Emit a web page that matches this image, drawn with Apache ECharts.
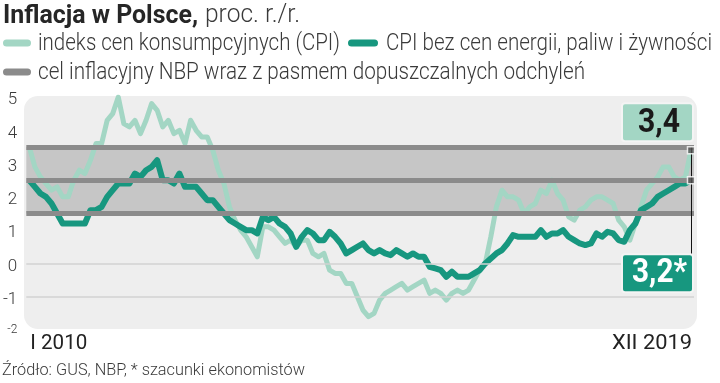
<!DOCTYPE html>
<html><head><meta charset="utf-8">
<script src="https://cdn.jsdelivr.net/npm/echarts@6/dist/echarts.min.js"></script>
<style>html,body{margin:0;padding:0;background:#fff}#c{width:720px;height:383px}</style>
</head><body><div id="c"></div>
<script>
// Monthly, I 2010 .. XII 2019
const xTickLabels = ['I 2010', 'XII 2019'];
const yMin = -2, yMax = 5;
const cpi = [
 3.5,2.9,2.6,2.4,2.2,2.3,2.0,2.0,2.5,2.8,2.7,3.1,
 3.6,3.6,4.3,4.5,5.0,4.2,4.1,4.3,3.9,4.3,4.8,4.6,
 4.1,4.3,3.9,4.0,3.6,4.3,4.0,3.8,3.8,3.4,2.8,2.4,
 1.7,1.3,1.0,0.8,0.5,0.2,1.1,1.1,1.0,0.8,0.6,0.7,
 0.5,0.7,0.7,0.3,0.2,0.3,-0.2,-0.3,-0.3,-0.6,-0.6,-1.0,
 -1.4,-1.6,-1.5,-1.1,-0.9,-0.8,-0.7,-0.6,-0.8,-0.7,-0.6,-0.5,
 -0.9,-0.8,-0.9,-1.1,-0.9,-0.8,-0.9,-0.8,-0.5,-0.2,0.0,0.8,
 1.7,2.2,2.0,2.0,1.9,1.5,1.7,1.8,2.2,2.1,2.5,2.1,
 1.9,1.4,1.3,1.6,1.7,1.9,2.0,2.0,1.9,1.8,1.3,1.1,
 0.7,1.2,1.7,2.2,2.4,2.6,2.9,2.9,2.6,2.5,2.6,3.4
];
const core = [
 2.5,2.3,2.1,2.0,1.8,1.5,1.2,1.2,1.2,1.2,1.2,1.6,
 1.6,1.7,2.0,2.2,2.4,2.4,2.4,2.7,2.6,2.8,2.9,3.1,
 2.5,2.5,2.4,2.7,2.3,2.3,2.3,2.1,1.9,1.9,1.7,1.5,
 1.3,1.2,1.1,1.0,1.0,0.9,1.4,1.3,1.4,1.2,1.1,0.9,
 0.5,0.8,1.0,0.9,0.7,0.7,0.95,0.8,0.6,0.3,0.4,0.5,
 0.6,0.4,0.3,0.4,0.3,0.25,0.4,0.3,0.2,0.3,0.2,0.2,
 -0.1,-0.15,-0.2,-0.4,-0.25,-0.4,-0.4,-0.4,-0.3,-0.2,0.0,0.15,
 0.3,0.4,0.6,0.85,0.8,0.8,0.8,0.8,1.0,0.8,0.9,0.9,
 1.0,0.8,0.7,0.6,0.55,0.6,0.9,0.8,0.95,0.9,0.7,0.65,
 1.0,1.2,1.6,1.7,1.8,2.0,2.1,2.2,2.3,2.4,2.4,2.5
];
const bandLow = 1.5, target = 2.5, bandHigh = 3.5;
const refLines = [0, -1];
const endLabels = ['3,4', '3,2*'];
const titleBold = 'Inflacja w Polsce,';
const titleLight = 'proc. r./r.';
const legendNames = ['indeks cen konsumpcyjnych (CPI)', 'CPI bez cen energii, paliw i żywności', 'cel inflacyjny NBP wraz z pasmem dopuszczalnych odchyleń'];
const sourceText = 'Źródło: GUS, NBP, * szacunki ekonomistów';

const C_CPI = '#a3d6c4', C_CORE = '#17977f', C_BAND = '#c6c6c6', C_BANDLINE = '#8b8b8b';
const FN = "Roboto, 'Liberation Sans', sans-serif";
const TXT = '#3a3a3a';

const mctx = document.createElement('canvas').getContext('2d');
function fitScale(text, font, w) { mctx.font = font; return w / mctx.measureText(text).width; }
function fitText(text, font, x, y, w, extra) {
  const s = fitScale(text, font, w);
  return Object.assign({type: 'text', x: x, y: y, scaleX: s, scaleY: 1,
    style: Object.assign({text: text, font: font, fill: TXT, textVerticalAlign: 'middle'}, extra || {})});
}

const chart = echarts.init(document.getElementById('c'), null, {renderer: 'canvas'});
const toPairs = arr => arr.map((v, i) => [i, v]);
const last = cpi.length - 1;

chart.setOption({
  animation: false,
  grid: {left: 24, right: 26, top: 97, bottom: 53},
  xAxis: {type: 'value', min: -0.54, max: last + 0.54, show: false},
  yAxis: {type: 'value', min: yMin, max: yMax, interval: 1,
    axisLine: {show: false}, axisTick: {show: false}, splitLine: {show: false},
    axisLabel: {margin: 9, fontFamily: 'Roboto', fontWeight: 300, fontSize: 17, color: TXT, padding: [6, 0, 0, 0],
      formatter: v => v === yMin ? '{s|' + v + '}' : String(v),
      rich: {s: {fontSize: 12, fontFamily: 'Roboto', fontWeight: 300, color: TXT, padding: [0, 0, 6, 0]}}}
  },
  series: [
    {type: 'line', data: [], z: 1, silent: true,
     markArea: {silent: true, itemStyle: {color: C_BAND}, data: [[{yAxis: bandLow}, {yAxis: bandHigh}]]},
     markLine: {silent: true, symbol: 'none', label: {show: false},
       data: [
         {yAxis: bandLow, lineStyle: {color: C_BANDLINE, width: 5, type: 'solid'}},
         {yAxis: target, lineStyle: {color: C_BANDLINE, width: 5, type: 'solid'}},
         {yAxis: bandHigh, lineStyle: {color: C_BANDLINE, width: 5, type: 'solid'}},
         ...refLines.map(v => ({yAxis: v, lineStyle: {color: '#d2d2d2', width: 1.5, type: 'solid'}}))
       ]}
    },
    {name: legendNames[0], type: 'line', data: toPairs(cpi), z: 3, showSymbol: false,
     lineStyle: {color: C_CPI, width: 5, join: 'round'}, itemStyle: {color: C_CPI}},
    {name: legendNames[1], type: 'line', data: toPairs(core), z: 4, showSymbol: false,
     lineStyle: {color: C_CORE, width: 6, join: 'round'}, itemStyle: {color: C_CORE}},
    {type: 'scatter', z: 6, symbol: 'rect', symbolSize: 7,
     itemStyle: {color: '#555', borderColor: '#fff', borderWidth: 1.5},
     data: [[last, cpi[last]], [last, core[last]]]}
  ]
});

const pA = chart.convertToPixel({gridIndex: 0}, [last, cpi[last]]);
const pB = chart.convertToPixel({gridIndex: 0}, [last, core[last]]);
const p0 = chart.convertToPixel({gridIndex: 0}, [0, yMin]);
const pTop = chart.convertToPixel({gridIndex: 0}, [last, bandHigh]);
const gLeft = 24, gTop = 96;
const boxW = 71, boxH = 38;
const boxAy = pA[1] - 47, boxBy = pB[1] + 74;

const F_TITLE_B = "bold 26px Roboto";
const F_LIGHT26 = "300 25px Roboto";
const F_LEG = "300 24px Roboto";
const F_SRC = "300 17px Roboto";
const F_X = "400 21px Roboto";
const F_END = "bold 33px Roboto";

chart.setOption({
  graphic: [
    {type: 'rect', z: -10, silent: true, shape: {x: gLeft, y: gTop, width: 673, height: 233, r: 14}, style: {fill: '#eeeeee'}},
    // title
    fitText(titleBold, F_TITLE_B, 3, 16, 195, {fill: '#262626'}),
    fitText(titleLight, F_LIGHT26, 205, 16, 95),
    // legend
    {type: 'rect', shape: {x: 3, y: 39.5, width: 28, height: 7, r: 3.5}, style: {fill: C_CPI}},
    fitText(legendNames[0], F_LEG, 38, 44, 302),
    {type: 'rect', shape: {x: 348, y: 39.5, width: 30, height: 7, r: 3.5}, style: {fill: C_CORE}},
    fitText(legendNames[1], F_LEG, 386, 44, 326),
    {type: 'rect', shape: {x: 3, y: 68.5, width: 28, height: 7, r: 3.5}, style: {fill: C_BANDLINE}},
    fitText(legendNames[2], F_LEG, 38, 73, 547),
    // x tick labels
    fitText(xTickLabels[0], F_X, p0[0] + 1, 344, 57, {fill: '#222'}),
    fitText(xTickLabels[1], F_X, pA[0] + 1, 344, 80, {fill: '#222', textAlign: 'right'}),
    // source
    fitText(sourceText, F_SRC, 2, 371, 303),
    // vertical connector
    {type: 'line', z: 5, shape: {x1: pA[0] + 0.5, y1: pTop[1], x2: pA[0] + 0.5, y2: boxBy}, style: {stroke: '#111', lineWidth: 1}},
    // end value boxes
    {type: 'rect', z: 7, shape: {x: pA[0] + 2 - boxW, y: boxAy, width: boxW, height: boxH, r: 3}, style: {fill: C_CPI, stroke: '#f4f4f4', lineWidth: 2}},
    Object.assign(fitText(endLabels[0], F_END, pA[0] - 11, boxAy + boxH / 2 + 1, 42, {fill: '#1a1a1a', textAlign: 'right'}), {z: 8}),
    {type: 'rect', z: 7, shape: {x: pA[0] + 2 - boxW, y: boxBy, width: boxW, height: boxH, r: 3}, style: {fill: C_CORE, stroke: '#f4f4f4', lineWidth: 2}},
    Object.assign(fitText(endLabels[1], F_END, pA[0] - 4, boxBy + boxH / 2 + 1, 55, {fill: '#ffffff', textAlign: 'right'}), {z: 8})
  ]
});
</script></body></html>
